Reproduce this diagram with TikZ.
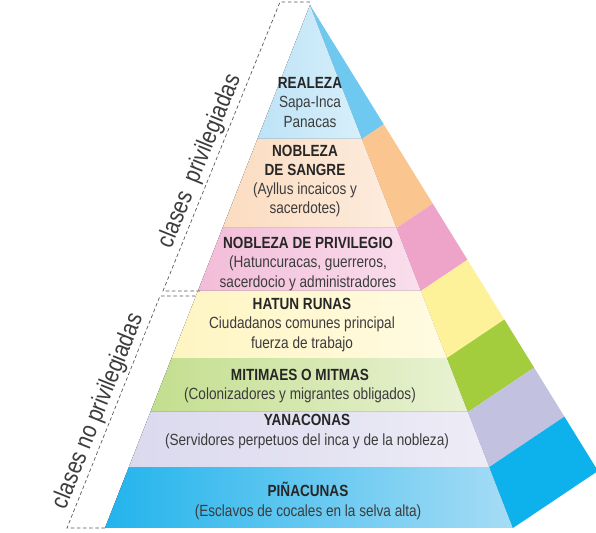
\documentclass[tikz,border=0pt]{standalone}
\usepackage{fontspec}
\setmainfont{Liberation Sans}[FakeStretch=0.84]
\usetikzlibrary{calc}

\definecolor{reaL}{HTML}{BDE3F7}
\definecolor{reaR}{HTML}{D8EFFA}
\definecolor{reaS}{HTML}{6FC8EF}
\definecolor{sanL}{HTML}{FBDCC0}
\definecolor{sanR}{HTML}{FDECDE}
\definecolor{sanS}{HTML}{FBC590}
\definecolor{priL}{HTML}{F2BCD9}
\definecolor{priR}{HTML}{FADFEC}
\definecolor{priS}{HTML}{EEA3C9}
\definecolor{hatL}{HTML}{FFF5C2}
\definecolor{hatR}{HTML}{FFFBE2}
\definecolor{hatS}{HTML}{FDF29A}
\definecolor{mitL}{HTML}{C3DE8E}
\definecolor{mitR}{HTML}{E9F2D4}
\definecolor{mitS}{HTML}{A3CD3C}
\definecolor{yanL}{HTML}{DBD9EE}
\definecolor{yanR}{HTML}{EDECF6}
\definecolor{yanS}{HTML}{C3C1E0}
\definecolor{pinL}{HTML}{22B4EC}
\definecolor{pinR}{HTML}{A6DCF5}
\definecolor{pinS}{HTML}{0DB1EB}
\definecolor{bodytext}{HTML}{3C3C3C}
\definecolor{titletext}{HTML}{262626}

\tikzset{
  band/.style={align=center, text=bodytext, font=\fontsize{9.2}{10.9}\selectfont},
  bracket/.style={draw=black!65, line width=0.4pt, dash pattern=on 2pt off 1.5pt},
  classlabel/.style={font=\fontsize{14}{16}\selectfont, text=bodytext, inner sep=1.5pt}
}
\newcommand{\bandtitle}[1]{\textcolor{titletext}{\textbf{#1}}}

\begin{document}
\begin{tikzpicture}[x=0.02cm,y=0.02cm]
  \useasboundingbox (0,0) rectangle (596,533);
  \coordinate (apex) at (310,528);
  \coordinate (bl) at (105,5);
  \coordinate (br) at (513,5);
  \coordinate (bs) at (598,62);

  % layers: shaded front face, flat side face
  \foreach \ta/\tb/\cl/\cr/\cs in {0/0.2562/reaL/reaR/reaS, 0.2562/0.4264/sanL/sanR/sanS,
      0.4264/0.5468/priL/priR/priS, 0.5468/0.6750/hatL/hatR/hatS,
      0.6750/0.7782/mitL/mitR/mitS, 0.7782/0.8834/yanL/yanR/yanS, 0.8834/1/pinL/pinR/pinS}{
    \fill[left color=\cl, right color=\cr] ($(apex)!\ta!(bl)$) -- ($(apex)!\ta!(br)$)
      -- ($(apex)!\tb!(br)$) -- ($(apex)!\tb!(bl)$) -- cycle;
    \fill[\cs] ($(apex)!\ta!(br)$) -- ($(apex)!\ta!(bs)$) -- ($(apex)!\tb!(bs)$)
      -- ($(apex)!\tb!(br)$) -- cycle;
  }

  \node[band] (realeza) at (310,430.5) {\bandtitle{REALEZA}\\Sapa-Inca\\Panacas};
  \node[band] (sangre) at (305,352) {\bandtitle{NOBLEZA}\\\bandtitle{DE SANGRE}\\(Ayllus incaicos y\\sacerdotes)};
  \node[band] (privilegio) at (308,269) {\bandtitle{NOBLEZA DE PRIVILEGIO}\\(Hatuncuracas, guerreros,\\sacerdocio y administradores};
  \node[band] (hatun) at (302,208) {\bandtitle{HATUN RUNAS}\\Ciudadanos comunes principal\\fuerza de trabajo};
  \node[band] (mitimaes) at (300,147) {\bandtitle{MITIMAES O MITMAS}\\(Colonizadores y migrantes obligados)};
  \node[band] (yanaconas) at (307,101.5) {\bandtitle{YANACONAS}\\(Servidores perpetuos del inca y de la nobleza)};
  \node[band] (pinacunas) at (308,32) {\bandtitle{PIÑACUNAS}\\(Esclavos de cocales en la selva alta)};

  % dashed brackets
  \coordinate (privA) at (200,242);
  \coordinate (privB) at (163,242);
  \coordinate (privC) at (280,531);
  \coordinate (privD) at (310,531);
  \coordinate (noA) at (105,5);
  \coordinate (noB) at (67,5);
  \coordinate (noC) at (160,237);
  \coordinate (noD) at (197,237);
  \draw[bracket] (privA) -- (privB) -- node[classlabel, pos=0.43, above, sloped] (privlabel) {clases\ \ privilegiadas} (privC) -- (privD);
  \draw[bracket] (noA) -- (noB) -- node[classlabel, pos=0.48, above, sloped] (nolabel) {clases no privilegiadas} (noC) -- (noD);
\end{tikzpicture}
\end{document}
